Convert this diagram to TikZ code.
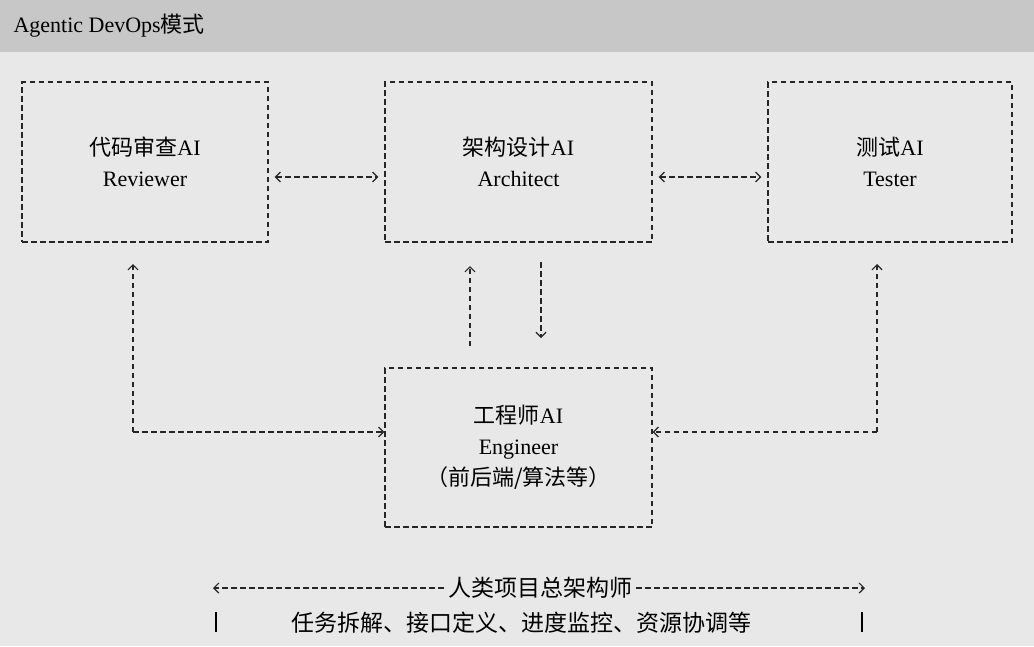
\documentclass[tikz,border=0pt]{standalone}
\usepackage{fontspec}
\setmainfont{Liberation Serif}
\newfontfamily\cjk{Noto Sans CJK SC}
\usetikzlibrary{arrows.meta}
\begin{document}
\begin{tikzpicture}[x=1pt,y=-1pt,
  dl/.style={draw=black!85,line width=1.2pt,dash pattern=on 5.5pt off 3.5pt},
  box/.style={dl,minimum width=#1,minimum height=160pt,inner sep=0pt,align=center,font=\fontsize{22}{31}\selectfont},
  tip/.style={-{Straight Barb[length=5pt,width=10pt,line width=1.2pt]}},
  tipb/.style={{Straight Barb[length=5pt,width=10pt,line width=1.2pt]}-{Straight Barb[length=5pt,width=10pt,line width=1.2pt]}},
  txt/.style={font=\fontsize{23}{27}\selectfont,inner sep=1pt}]
\fill[black!9] (0,0) rectangle (1034,646);
\fill[black!22] (0,0) rectangle (1034,52);
\node[anchor=west,font=\fontsize{22}{26}\selectfont] (title) at (10,26) {Agentic DevOps{\cjk 模式}};
\node[box=246pt] (rev) at (145,162) {{\cjk 代码审查}AI\\Reviewer};
\node[box=267pt] (arc) at (518.5,162) {{\cjk 架构设计}AI\\Architect};
\node[box=244pt] (tst) at (890,162) {{\cjk 测试}AI\\Tester};
\node[box=267pt,minimum height=159pt] (eng) at (518.5,447.5) {{\cjk 工程师}AI\\Engineer\\{\cjk （前后端/算法等）}};
\draw[dl,tipb] ([xshift=6pt,yshift=-15pt]rev.east) -- ([xshift=-6pt,yshift=-15pt]arc.west);
\draw[dl,tipb] ([xshift=6pt,yshift=-15pt]arc.east) -- ([xshift=-6pt,yshift=-15pt]tst.west);
\coordinate (c1) at (133,432);
\coordinate (c2) at (877,432);
\coordinate (u1) at (470,346);
\coordinate (d1) at (541,262);
\draw[dl,tip] (c1) -- (133,264) ;
\draw[dl,tip] (c1) -- (eng.west |- c1);
\draw[dl,tip] (c2) -- (877,264);
\draw[dl,tip] (c2) -- (eng.east |- c2);
\draw[dl,tip] (u1) -- (470,266);
\draw[dl,tip] (d1) -- (541,338);
\node[txt,inner xsep=4pt] (hum) at (540,588) {\cjk 人类项目总架构师};
\node[txt] (task) at (521,623) {\cjk 任务拆解、接口定义、进度监控、资源协调等};
\coordinate (l) at (213,588);
\coordinate (r) at (865,588);
\draw[dl,tip] (hum.west) -- (l);
\draw[dl,tip] (hum.east) -- (r);
\draw[line width=1.2pt] (216,612) -- (216,632) (862,612) -- (862,632);
\end{tikzpicture}
\end{document}
